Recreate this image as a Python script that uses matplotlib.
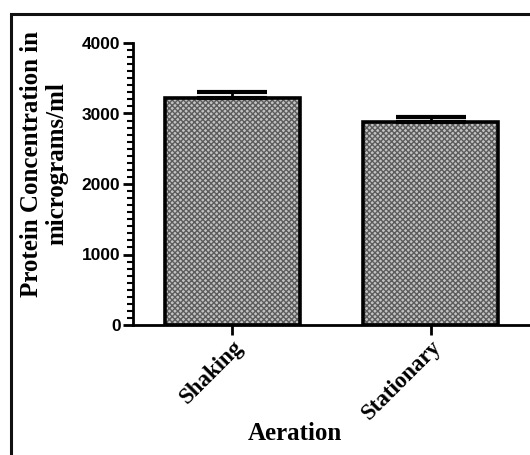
import numpy as np
import matplotlib
matplotlib.use('Agg')
import matplotlib.pyplot as plt
from matplotlib.patches import Rectangle
from matplotlib.ticker import MultipleLocator

# data
categories = ['Shaking', 'Stationary']
means = [3220, 2880]
errors = [85, 65]
y_ticks = [0, 1000, 2000, 3000, 4000]

W, H = 530, 455
fig = plt.figure(figsize=(W / 100, H / 100), dpi=100)

# outer frame (right and bottom sides are cut off in the reference)
frame = Rectangle((11 / W, -0.2), 1.2, (H - 14) / H + 0.2, transform=fig.transFigure,
                  fill=False, edgecolor='#111111', linewidth=2.2, clip_on=False)
fig.patches.append(frame)

ax = fig.add_axes([133 / W, 130 / H, 1 - 133 / W, 282 / H])
x = np.arange(len(categories))

# hatched fill, then black outline on top
ax.bar(x, means, width=0.68, color='#c2c2c2', edgecolor='#5c5c5c',
       hatch='xxxxxx', linewidth=0, zorder=2)
ax.bar(x, means, width=0.68, facecolor='none', edgecolor='black',
       linewidth=2.6, zorder=3)
ax.errorbar(x, means, yerr=[[0] * len(errors), errors], fmt='none',
            ecolor='black', elinewidth=2, capsize=25, capthick=3, zorder=4)

ax.set_xlim(-0.5, 1.5)
ax.set_ylim(0, 4000)
ax.set_yticks(y_ticks)
ax.yaxis.set_minor_locator(MultipleLocator(100))
ax.set_yticklabels([str(t) for t in y_ticks], fontfamily='Liberation Sans',
                   fontweight='bold', fontsize=12.5)
ax.set_xticks(x)
ax.set_xticklabels(categories, rotation=45, ha='right', rotation_mode='anchor',
                   fontfamily='Liberation Serif', fontweight='bold', fontsize=16.5)

for side in ['top', 'right']:
    ax.spines[side].set_visible(False)
for side in ['left', 'bottom']:
    ax.spines[side].set_linewidth(2)
ax.tick_params(axis='y', which='major', length=7, width=2, pad=2)
ax.tick_params(axis='y', which='minor', length=4, width=1.5)
ax.tick_params(axis='x', length=7, width=2, pad=1)

fig.text(44 / W, 1 - 164 / H, 'Protein Concentration in\nmicrograms/ml',
         rotation=90, ha='center', va='center', fontfamily='Liberation Serif',
         fontweight='bold', fontsize=18, linespacing=1.15)
fig.text(295 / W, 1 - 433 / H, 'Aeration', ha='center', va='center',
         fontfamily='Liberation Serif', fontweight='bold', fontsize=18)

fig.savefig('out.png', dpi=100)
